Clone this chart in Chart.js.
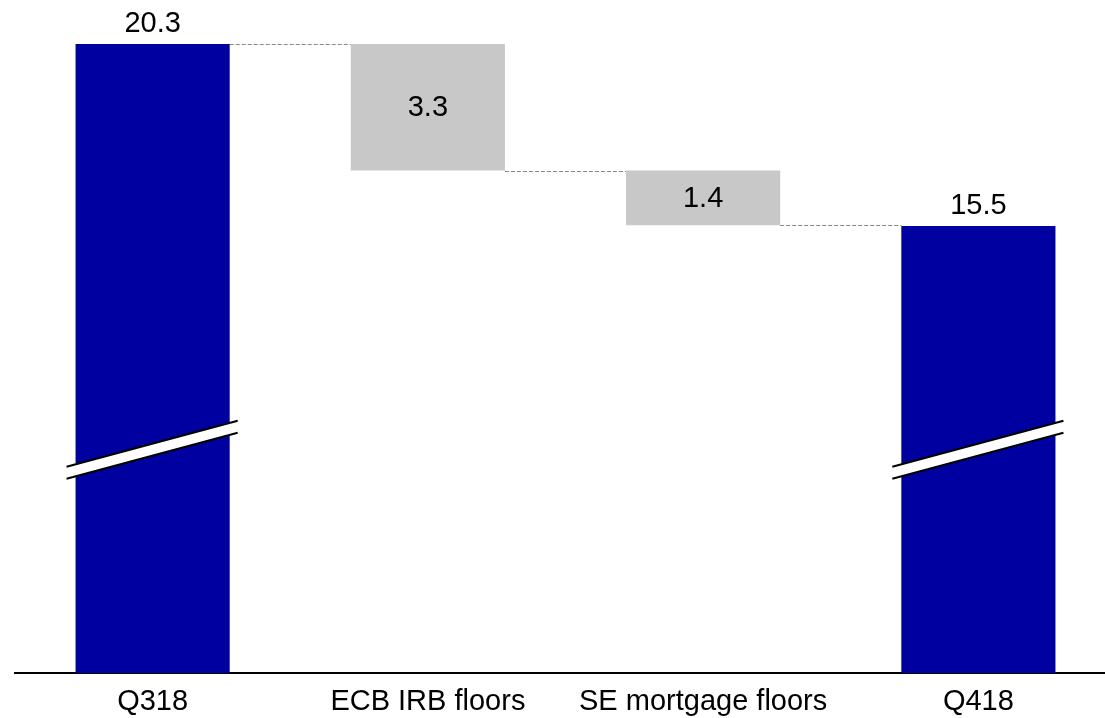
<!DOCTYPE html>
<html>
<head>
<meta charset="utf-8">
<script src="https://cdn.jsdelivr.net/npm/chart.js@4/dist/chart.umd.min.js"></script>
<style>
  html, body { margin: 0; padding: 0; background: #fff; }
  #wrap { width: 1105px; height: 718px; }
</style>
</head>
<body>
<div id="wrap"><canvas id="bridge"></canvas></div>
<script>
// ---------------- DATA ----------------

const categories = ["Q318", "ECB IRB floors", "SE mortgage floors", "Q418"];

// totals are full bars, changes float between running totals
const totals  = [20.3, null, null, 15.5];
const changes = [null, -3.34, -1.44, null];

const yMin = 3.71;
const yMax = 21.46;
const breakAt = 9.6;

const BLUE = "#0000a0";
const GREY = "#c8c8c8";
const FONT = "'Liberation Sans', Arial, sans-serif";


// build floating bars + connector levels
const barData = [];
const levels = [];
let running = 0;

categories.forEach((c, i) => {
  if (totals[i] !== null) {
    running = totals[i];
    barData.push({ x: i, y: totals[i] });
  } else {
    const next = running + changes[i];
    barData.push({ x: i, y: [Math.min(running, next), Math.max(running, next)] });
    running = next;
  }
  levels.push(running);
});


// ---------------- PLUGINS ----------------

const connectors = {
  id: "connectors",
  beforeDatasetsDraw(chart) {
    const ctx = chart.ctx;
    const bars = chart.getDatasetMeta(0).data;
    const y = chart.scales.y;
    ctx.save();
    ctx.strokeStyle = "#888";
    ctx.lineWidth = 1;
    ctx.setLineDash([4, 2]);
    for (let i = 0; i < bars.length - 1; i++) {
      const a = bars[i], b = bars[i + 1];
      const py = Math.round(y.getPixelForValue(levels[i])) + 0.5;
      ctx.beginPath();
      ctx.moveTo(a.x + a.width / 2, py);
      ctx.lineTo(b.x - b.width / 2, py);
      ctx.stroke();
    }
    ctx.restore();
  }
};

const barLabels = {
  id: "barLabels",
  afterDatasetsDraw(chart) {
    const ctx = chart.ctx;
    const bars = chart.getDatasetMeta(0).data;
    ctx.save();
    ctx.font = "29px " + FONT;
    ctx.fillStyle = "#000";
    ctx.textAlign = "center";
    bars.forEach((bar, i) => {
      if (totals[i] !== null) {
        ctx.textBaseline = "alphabetic";
        ctx.fillText(totals[i].toFixed(1), bar.x, bar.y - 12);
      } else {
        ctx.textBaseline = "middle";
        const mid = (bar.y + bar.base) / 2;
        ctx.fillText(Math.abs(changes[i]).toFixed(1), bar.x, mid + 1);
      }
    });
    ctx.restore();
  }
};

const axisBreak = {
  id: "axisBreak",
  afterDatasetsDraw(chart) {
    const ctx = chart.ctx;
    const bars = chart.getDatasetMeta(0).data;
    const cy = chart.scales.y.getPixelForValue(breakAt);
    ctx.save();
    bars.forEach((bar, i) => {
      if (totals[i] === null) return;
      const x0 = bar.x - bar.width / 2 - 9;
      const x1 = bar.x + bar.width / 2 + 8;
      const rise = 23;
      ctx.fillStyle = "#fff";
      ctx.beginPath();
      ctx.moveTo(x0, cy + rise - 6);
      ctx.lineTo(x1, cy - rise - 6);
      ctx.lineTo(x1, cy - rise + 6);
      ctx.lineTo(x0, cy + rise + 6);
      ctx.closePath();
      ctx.fill();
      ctx.strokeStyle = "#000";
      ctx.lineWidth = 2;
      [-6, 6].forEach(off => {
        ctx.beginPath();
        ctx.moveTo(x0, cy + rise + off);
        ctx.lineTo(x1, cy - rise + off);
        ctx.stroke();
      });
    });
    ctx.restore();
  }
};


// ---------------- CHART ----------------

new Chart(document.getElementById("bridge"), {
  type: "bar",
  data: {
    datasets: [
      {
        data: barData,
        backgroundColor: categories.map((c, i) => totals[i] !== null ? BLUE : GREY),
        borderWidth: 0,
        barPercentage: 0.56,
        categoryPercentage: 1
      }
    ]
  },
  options: {
    responsive: true,
    maintainAspectRatio: false,
    animation: false,
    layout: { padding: { left: 15, right: 0, top: 0, bottom: 0 } },
    plugins: {
      legend: { display: false },
      tooltip: { enabled: false }
    },
    scales: {
      x: {
        type: "linear",
        offset: false,
        min: -0.5,
        max: 3.46,
        grid: { display: false, drawTicks: false },
        border: { display: true, color: "#000", width: 2 },
        afterBuildTicks: scale => {
          scale.ticks = scale.ticks.filter(t => Number.isInteger(t.value));
        },
        afterFit: scale => { scale.height = 45; },
        ticks: {
          stepSize: 1,
          autoSkip: false,
          maxRotation: 0,
          padding: 12,
          color: "#000",
          font: { size: 29, family: FONT },
          callback: v => categories[v] ?? ""
        }
      },
      y: {
        display: false,
        min: yMin,
        max: yMax
      }
    }
  },
  plugins: [connectors, barLabels, axisBreak]
});
</script>
</body>
</html>
